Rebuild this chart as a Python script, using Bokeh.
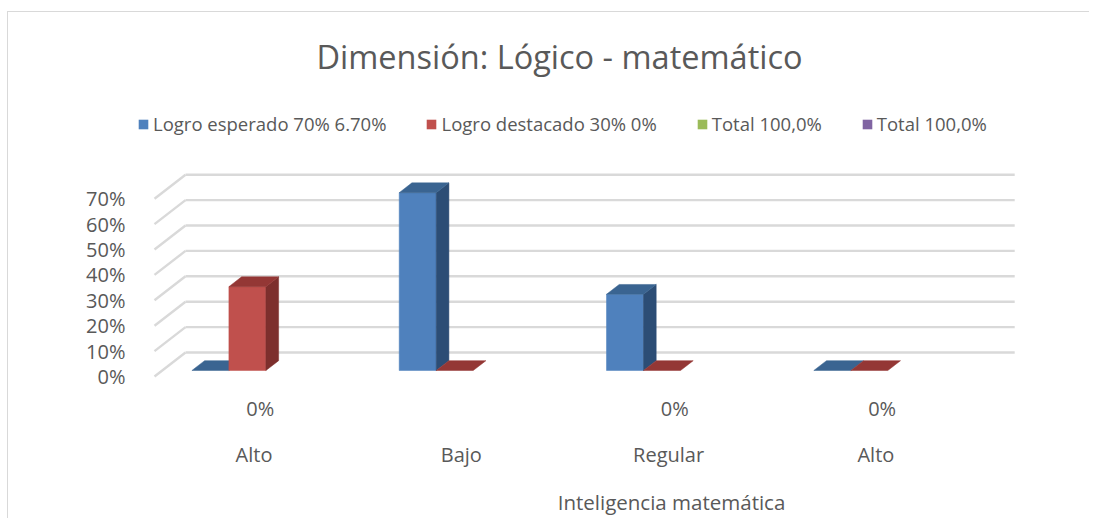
from bokeh.plotting import figure
from bokeh.models import (Range1d, FixedTicker, PrintfTickFormatter, Legend,
                          LegendItem, ColumnDataSource)
from bokeh.core.properties import value
from bokeh.embed import file_html
from bokeh.resources import INLINE

# ---------------- data ----------------
categories = ["Alto", "Bajo", "Regular", "Alto"]
series_names = ["Logro esperado 70% 6.70%", "Logro destacado 30% 0%",
                "Total 100,0%", "Total 100,0%"]
logro_esperado = [0, 70, 30, 0]
logro_destacado = [33, 0, 0, 0]
total_a = [None, None, None, None]
total_b = [None, None, None, None]
zero_labels = ["0%", "", "0%", "0%"]
y_ticks = [0, 10, 20, 30, 40, 50, 60, 70]
title_text = "Dimensión: Lógico - matemático"
axis_title = "Inteligencia matemática"

series_values = [logro_esperado, logro_destacado, total_a, total_b]

# ---------------- styling / layout ----------------
FONT = "Open Sans"
TXT = "#595959"
GRID = "#d9d9d9"
face_colors = [
    ("#4f81bd", "#2c4d75", "#3a6491"),
    ("#c0504d", "#7d2f2d", "#943735"),
    ("#9bbb59", "#71893f", "#86a24b"),
    ("#8064a2", "#5c4776", "#6e568c"),
]

W, H = 1082, 507
LEFT = 128            # frame left in canvas px
ORIGIN_X = 146        # canvas x of the front-left floor corner
PAGE_X0, PAGE_Y0 = 9, 13
PX_X = 207.3          # px per category
PX_Y = 2.54           # px per percent
ZERO_CANVAS_Y = 364   # canvas y of 0% on the front plane

DX = 31 / PX_X        # depth offset (data units)
DY = 24 / PX_Y
W_BAR = 37 / PX_X
GAP = (1 - 4 * W_BAR) / 2
FD, DD = 0.25, 0.41   # bar front depth and bar depth (fractions)


def pdata(px, py):
    return ((px - PAGE_X0 - ORIGIN_X) / PX_X,
            (ZERO_CANVAS_Y - (py - PAGE_Y0)) / PX_Y)


p = figure(width=W, height=H, output_backend="svg", toolbar_location=None,
           x_range=Range1d(-(ORIGIN_X - LEFT) / PX_X, (W - ORIGIN_X) / PX_X),
           y_range=Range1d(-(H - ZERO_CANVAS_Y) / PX_Y, ZERO_CANVAS_Y / PX_Y),
           x_axis_location=None, min_border_left=LEFT, min_border_right=0,
           min_border_top=0, min_border_bottom=0)
p.styles = {"margin-top": "11px", "margin-left": "7px",
            "border-left": "1px solid #d9d9d9",
            "border-top": "1px solid #d9d9d9"}
p.outline_line_color = None
p.xgrid.visible = False
p.ygrid.visible = False
p.background_fill_color = "white"
p.border_fill_color = "white"

# y axis
ax = p.yaxis[0]
ax.ticker = FixedTicker(ticks=y_ticks)
ax.formatter = PrintfTickFormatter(format="%d%%")
ax.axis_line_color = None
ax.major_tick_line_color = None
ax.minor_tick_line_color = None
ax.major_label_standoff = 5
ax.major_label_text_font = FONT
ax.major_label_text_font_size = "20px"
ax.major_label_text_color = TXT

# gridlines: back wall + left side wall
n_cat = len(categories)
gx, gy = [], []
for t in y_ticks:
    gx.append([0, DX]); gy.append([t, t + DY])
    gx.append([DX, n_cat + DX]); gy.append([t + DY, t + DY])
p.multi_line(gx, gy, line_color=GRID, line_width=2.4)

# bars
legend_items = []
for s, vals in enumerate(series_values):
    fronts = {"xs": [], "ys": []}
    sides = {"xs": [], "ys": []}
    tops = {"xs": [], "ys": []}
    for i, v in enumerate(vals):
        if v is None:
            continue
        x0 = i + GAP + s * W_BAR + FD * DX
        y0 = FD * DY
        x1 = x0 + W_BAR
        ox, oy = DD * DX, DD * DY
        if v > 0:
            fronts["xs"].append([x0, x1, x1, x0])
            fronts["ys"].append([y0, y0, y0 + v, y0 + v])
            sides["xs"].append([x1, x1 + ox, x1 + ox, x1])
            sides["ys"].append([y0, y0 + oy, y0 + oy + v, y0 + v])
        tops["xs"].append([x0, x1, x1 + ox, x0 + ox])
        tops["ys"].append([y0 + v, y0 + v, y0 + v + oy, y0 + v + oy])
    cf, cs, ct = face_colors[s]
    p.patches("xs", "ys", source=ColumnDataSource(fronts), fill_color=cf,
              line_color=cf, line_width=0.5)
    p.patches("xs", "ys", source=ColumnDataSource(sides), fill_color=cs,
              line_color=cs, line_width=0.5)
    p.patches("xs", "ys", source=ColumnDataSource(tops), fill_color=ct,
              line_color=ct, line_width=0.5)
    # legend swatch (not drawn in the plot area: NaN coordinates)
    sw = p.quad(left=[float("nan")], right=[float("nan")],
                bottom=[float("nan")], top=[float("nan")],
                fill_color=cf, line_color=None)
    legend_items.append(LegendItem(label=series_names[s], renderers=[sw]))

legend = Legend(items=legend_items, orientation="horizontal",
                location=(138 - PAGE_X0 - LEFT, H - (125 - PAGE_Y0) - 12),
                glyph_width=12, glyph_height=12, label_standoff=4, spacing=39,
                padding=0, margin=0, border_line_color=None,
                background_fill_alpha=0,
                label_text_font=FONT, label_text_font_size="18.5px",
                label_text_color=TXT, label_height=24)
p.add_layout(legend, "center")

# title
tx, ty = pdata(560, 57)
p.text(x=[tx], y=[ty], text=[title_text], text_font=value(FONT),
       text_font_size="32.5px", text_color=TXT, text_align="center",
       text_baseline="middle")

# category labels and zero labels
_, y_cat = pdata(0, 455)
_, y_zero = pdata(0, 409)
cx = [i + 0.48 for i in range(n_cat)]
p.text(x=cx, y=[y_cat] * n_cat, text=categories, text_font=value(FONT),
       text_font_size="20px", text_color=TXT, text_align="center",
       text_baseline="middle")
p.text(x=[c + 0.03 for c in cx], y=[y_zero] * n_cat, text=zero_labels,
       text_font=value(FONT), text_font_size="20px", text_color=TXT,
       text_align="center", text_baseline="middle")

# axis title
ax_x, ax_y = pdata(672, 502)
p.text(x=[ax_x], y=[ax_y], text=[axis_title], text_font=value(FONT),
       text_font_size="20.5px", text_color=TXT, text_align="center",
       text_baseline="middle")

open("out.html", "w").write(file_html(p, INLINE))
